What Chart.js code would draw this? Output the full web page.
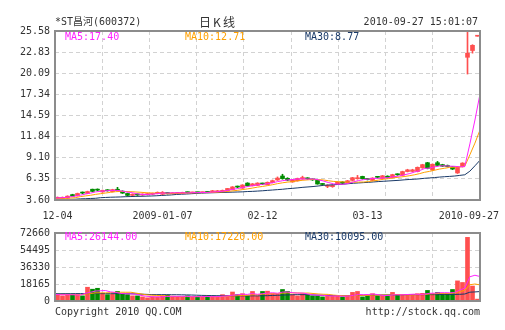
<!DOCTYPE html>
<html>
<head>
<meta charset="utf-8">
<script src="https://cdn.jsdelivr.net/npm/chart.js@4.4.1/dist/chart.umd.min.js"></script>
<style>
  html, body { margin: 0; padding: 0; background: #fff; }
  #wrap { position: relative; width: 505px; height: 330px; overflow: hidden; }
  .pane { position: absolute; left: 0; width: 505px; }
  #kbox { top: 0; height: 222px; }
  #vbox { top: 222px; height: 108px; }
</style>
</head>
<body>
<div id="wrap">
  <div class="pane" id="kbox"><canvas id="kline"></canvas></div>
  <div class="pane" id="vbox"><canvas id="vol"></canvas></div>
</div>
<script>
// daily bars, 2008-12-04 .. 2010-09-27
const opens = [3.75,3.80,3.85,4.30,4.15,4.55,4.45,5.00,4.95,4.65,
  4.90,4.70,5.00,4.75,4.45,4.20,4.35,4.25,4.30,4.35,
  4.45,4.35,4.47,4.42,4.45,4.45,4.60,4.52,4.60,4.55,
  4.62,4.60,4.65,4.70,4.80,4.95,5.32,5.15,5.80,5.45,
  5.50,5.72,5.60,5.85,6.20,6.72,6.42,5.95,6.10,6.32,
  6.40,6.27,6.15,5.66,5.37,5.33,5.68,5.94,5.85,6.15,
  6.37,6.67,6.32,6.15,6.60,6.40,6.70,6.52,6.93,6.82,
  7.30,7.32,7.30,7.78,8.45,7.50,8.45,8.20,8.05,7.92,
  7.12,7.92,22.16,23.04,24.90];
const closes = [3.95,3.95,4.10,4.10,4.45,4.50,4.70,4.72,4.88,4.85,
  4.80,4.95,4.85,4.50,4.20,4.35,4.25,4.35,4.40,4.45,
  4.60,4.60,4.44,4.50,4.52,4.60,4.55,4.60,4.55,4.60,
  4.58,4.80,4.80,4.85,5.10,5.30,5.28,5.55,5.45,5.70,
  5.80,5.68,5.90,6.12,6.45,6.38,6.18,6.22,6.40,6.52,
  6.35,6.22,5.68,5.62,5.52,5.50,5.90,5.78,6.10,6.50,
  6.44,6.37,6.27,6.45,6.55,6.75,6.52,6.90,6.88,7.30,
  7.52,7.52,7.85,8.20,7.72,8.25,8.10,8.00,7.95,7.62,
  7.88,8.40,22.70,23.72,24.90];
const highs = [4.00,4.00,4.15,4.35,4.50,4.65,4.75,5.02,5.05,4.90,
  4.95,5.00,5.25,4.80,4.50,4.40,4.40,4.40,4.45,4.50,
  4.65,4.70,4.55,4.55,4.56,4.62,4.65,4.63,4.62,4.64,
  4.68,4.85,4.85,4.90,5.12,5.35,5.42,5.60,5.85,5.75,
  5.85,5.80,5.95,6.20,6.60,6.95,6.50,6.28,6.45,6.70,
  6.50,6.35,6.20,5.75,5.58,5.55,5.95,6.00,6.15,6.55,
  6.80,6.70,6.42,6.50,6.68,6.80,6.75,6.95,7.00,7.35,
  7.60,7.60,7.90,8.25,8.50,8.30,8.62,8.25,8.15,7.98,
  7.95,8.45,25.58,23.80,24.90];
const lows = [3.60,3.75,3.82,4.05,4.12,4.42,4.42,4.68,4.80,4.60,
  4.75,4.65,4.80,4.45,4.15,4.15,4.20,4.20,4.25,4.30,
  4.40,4.30,4.38,4.40,4.42,4.42,4.50,4.50,4.52,4.52,
  4.55,4.58,4.62,4.68,4.78,4.92,5.20,5.10,5.40,5.42,
  5.48,5.60,5.55,5.82,6.15,6.30,6.10,5.90,6.05,6.30,
  6.28,6.15,5.65,5.55,5.20,5.25,5.65,5.72,5.82,6.10,
  6.30,6.30,6.20,6.10,6.48,6.35,6.45,6.48,6.80,6.78,
  7.25,7.28,7.25,7.72,7.65,7.45,8.05,7.95,7.90,7.55,
  7.05,7.88,19.98,22.70,24.90];

const ma5 = [3.85,3.88,3.93,4.00,4.11,4.22,4.37,4.49,4.65,4.73,
  4.79,4.84,4.87,4.79,4.66,4.57,4.43,4.33,4.31,4.36,
  4.41,4.48,4.50,4.52,4.53,4.53,4.52,4.55,4.56,4.58,
  4.58,4.63,4.67,4.73,4.83,4.97,5.07,5.22,5.34,5.46,
  5.56,5.64,5.71,5.84,5.99,6.11,6.21,6.27,6.33,6.34,
  6.33,6.34,6.23,6.08,5.88,5.71,5.64,5.66,5.76,5.96,
  6.14,6.24,6.34,6.41,6.42,6.48,6.51,6.63,6.72,6.87,
  7.02,7.22,7.41,7.68,7.76,7.91,8.02,8.05,8.00,7.98,
  7.91,7.97,10.90,14.00,17.40];
const ma10 = [3.78,3.80,3.82,3.85,3.90,4.04,4.13,4.21,4.33,4.42,
  4.51,4.60,4.68,4.72,4.70,4.68,4.64,4.60,4.55,4.51,
  4.49,4.46,4.42,4.42,4.45,4.47,4.50,4.53,4.54,4.56,
  4.56,4.58,4.61,4.65,4.71,4.78,4.85,4.95,5.04,5.15,
  5.27,5.36,5.47,5.59,5.73,5.84,5.93,5.99,6.09,6.17,
  6.22,6.28,6.25,6.21,6.11,6.02,5.99,5.95,5.92,5.92,
  5.93,5.94,6.00,6.09,6.19,6.31,6.38,6.49,6.57,6.65,
  6.75,6.87,7.02,7.20,7.32,7.47,7.62,7.73,7.84,7.87,
  7.91,8.00,9.48,11.00,12.71];
const ma30 = [3.65,3.66,3.67,3.68,3.70,3.75,3.77,3.80,3.82,3.90,
  3.93,3.96,3.98,4.00,4.03,4.05,4.07,4.08,4.10,4.12,
  4.15,4.19,4.22,4.26,4.32,4.35,4.38,4.42,4.46,4.50,
  4.52,4.54,4.56,4.58,4.60,4.62,4.64,4.66,4.70,4.72,
  4.76,4.80,4.85,4.90,4.95,5.00,5.07,5.12,5.18,5.25,
  5.30,5.35,5.42,5.50,5.55,5.58,5.62,5.66,5.72,5.78,
  5.82,5.86,5.90,5.95,6.00,6.04,6.08,6.12,6.16,6.22,
  6.27,6.30,6.35,6.42,6.47,6.52,6.58,6.63,6.67,6.72,
  6.80,6.88,7.35,8.05,8.77];

const volumes = [7200,5500,6800,6800,6800,5500,14700,12600,13600,8200,
  6800,7200,10200,7800,6800,5500,5500,4400,3400,4400,
  4400,5500,6200,4400,4400,4400,5500,4400,4400,4400,
  5500,4400,4400,6800,5500,9600,6800,7800,5500,10200,
  5500,10200,10500,7800,7200,12300,10200,6800,5500,7800,
  6800,5500,5500,4400,5500,5500,5500,4400,5500,9200,
  10200,4400,5500,7800,5500,5500,5500,9200,6800,6800,
  6800,6800,7800,8200,11300,7800,9200,7800,7800,12300,
  21500,19800,68000,16000,2000];
const volMa5 = [7000,6700,6700,6700,6620,6280,8120,9280,10640,10920,
  11180,9680,9200,8040,7760,7500,7160,6000,5120,4640,
  4420,4420,4780,4980,4980,4980,4980,4620,4620,4620,
  4840,4620,4620,5100,5320,6140,6620,7300,7040,7980,
  7160,7840,8380,8840,8240,9600,9600,8860,8400,8520,
  7420,6480,6220,6000,5540,5280,5280,5060,5280,6020,
  6960,6740,6960,7420,6680,5740,5960,6700,6500,6760,
  7020,7280,7000,7280,8180,8380,8860,8860,8780,8980,
  11720,13840,25880,27520,26144];
const volMa10 = [7000,7000,7000,7000,7000,6640,7410,7990,8670,8770,
  8730,8900,9240,9340,9340,9340,8420,7600,6580,6200,
  5960,5790,5390,5050,4810,4700,4700,4700,4800,4800,
  4910,4800,4620,4860,4970,5490,5620,5960,6070,6650,
  6650,7230,7840,7940,8110,8380,8720,8620,8620,8380,
  8510,8040,7540,7200,7030,6350,5880,5640,5640,5780,
  6120,6010,6010,6350,6350,6350,6350,6830,6960,6720,
  6380,6620,6850,6890,7470,7700,8070,7930,8030,8580,
  10050,11350,17370,18150,17220];
const volMa30 = [7800,7800,7850,7850,7900,7900,7900,7950,7950,7900,
  7900,7850,7850,7800,7800,7700,7600,7300,7100,6900,
  6800,6800,6800,6700,6700,6600,6500,6400,6200,6000,
  5900,5800,5700,5600,5600,5500,5500,5500,5500,5500,
  5500,5600,5700,5900,6100,6300,6500,6700,6800,6800,
  6700,6500,6300,6100,6000,5900,5800,5800,5800,5900,
  6000,6100,6200,6300,6400,6500,6600,6600,6700,6700,
  6700,6800,6800,6800,6800,6800,6900,6900,7000,7000,
  7100,7500,9400,9700,10095];

const priceTicks = [3.60, 6.35, 9.10, 11.84, 14.59, 17.34, 20.09, 22.83, 25.58];
const volTicks = [0, 18165, 36330, 54495, 72660];
const xTickIndex = [0, 21, 41, 62, 84];
const xTickText = ['12-04', '2009-01-07', '02-12', '03-13', '2010-09-27'];

const UP = '#ff4f4f', DOWN = '#008c00';
const C5 = '#ff22ff', C10 = '#ffa000', C30 = '#1a3a68';
const GRID = '#d2d2d2';
const FONT = '10px "DejaVu Sans Mono", "Noto Sans CJK SC", monospace';

Chart.defaults.font.family = '"DejaVu Sans Mono", "Noto Sans CJK SC", monospace';
Chart.defaults.font.size = 10;
Chart.defaults.color = '#333';

const labels = opens.map((_, i) => i);
const candleColors = closes.map((c, i) => (c >= opens[i] ? UP : DOWN));
const last = a => a[a.length - 1];

// grey box round the plot area
const framePlugin = {
  id: 'frame',
  afterDraw(chart) {
    const { ctx, chartArea: a } = chart;
    ctx.save();
    ctx.strokeStyle = '#8c8c8c';
    ctx.lineWidth = 2;
    ctx.strokeRect(a.left, a.top, a.right - a.left, a.bottom - a.top);
    ctx.restore();
  }
};

function textPlugin(id, build) {
  return {
    id,
    afterDraw(chart) {
      const ctx = chart.ctx;
      ctx.save();
      ctx.textBaseline = 'middle';
      build(chart).forEach(t => {
        ctx.font = t.font || FONT;
        ctx.fillStyle = t.color || '#333';
        ctx.textAlign = t.align || 'left';
        if ('letterSpacing' in ctx) ctx.letterSpacing = t.spacing || '0px';
        let x = t.x;
        if (t.clamp) {
          const w = ctx.measureText(t.text).width;
          x = Math.min(Math.max(x, w / 2 + 2), chart.width - 6 - w / 2);
        }
        ctx.fillText(t.text, x, t.y);
      });
      ctx.restore();
    }
  };
}

function baseScales(yOpts) {
  return {
    x: { type: 'category', display: false, offset: true },
    x2: { type: 'category', display: false, offset: false },
    xg: {
      type: 'linear', position: 'bottom', min: 0, max: 8,
      ticks: { display: false, stepSize: 1 },
      grid: { color: GRID, drawTicks: false },
      border: { display: false, dash: [4, 3] },
      afterFit: s => { s.height = 0; }
    },
    y: Object.assign({
      position: 'left',
      grid: { color: GRID, drawTicks: false },
      border: { display: false, dash: [4, 3] },
      afterFit: s => { s.width = 55; }
    }, yOpts)
  };
}

function maLine(data, color) {
  return {
    type: 'line', data, xAxisID: 'x2', yAxisID: 'y',
    borderColor: color, borderWidth: 1, pointRadius: 0, tension: 0, order: 0
  };
}

const common = {
  responsive: true,
  maintainAspectRatio: false,
  animation: false,
  devicePixelRatio: 1,
  events: [],
  plugins: { legend: { display: false }, tooltip: { enabled: false } }
};

// price panel: candles + moving averages
new Chart(document.getElementById('kline'), {
  type: 'bar',
  data: {
    labels,
    datasets: [
      {
        data: lows.map((l, i) => [l, highs[i]]),
        xAxisID: 'x', yAxisID: 'y',
        backgroundColor: candleColors, barThickness: 1, grouped: false, order: 2
      },
      {
        data: opens.map((o, i) => [o, closes[i]]),
        xAxisID: 'x', yAxisID: 'y',
        backgroundColor: candleColors, barThickness: 4, minBarLength: 1, grouped: false, order: 1
      },
      maLine(ma5, C5),
      maLine(ma10, C10),
      maLine(ma30, C30)
    ]
  },
  options: Object.assign({}, common, {
    layout: { padding: { left: 0, right: 25, top: 31, bottom: 22 } },
    scales: baseScales({
      min: priceTicks[0],
      max: last(priceTicks),
      afterBuildTicks: s => { s.ticks = priceTicks.map(v => ({ value: v })); },
      ticks: { padding: 5, color: '#333', callback: v => Number(v).toFixed(2) }
    })
  }),
  plugins: [framePlugin, textPlugin('ktext', chart => {
    const xs = chart.scales.x;
    const items = [
      { text: '*ST昌河(600372)', x: 55, y: 22 },
      { text: '日K线', x: 218, y: 22, align: 'center', font: '12px "Noto Sans CJK SC", sans-serif', spacing: '2px' },
      { text: '2010-09-27 15:01:07', x: 478, y: 22, align: 'right' },
      { text: 'MA5:' + last(ma5).toFixed(2), x: 65, y: 37, color: C5 },
      { text: 'MA10:' + last(ma10).toFixed(2), x: 185, y: 37, color: C10 },
      { text: 'MA30:' + last(ma30).toFixed(2), x: 305, y: 37, color: C30 }
    ];
    xTickIndex.forEach((idx, k) => {
      items.push({ text: xTickText[k], x: xs.getPixelForValue(idx), y: 216.5, align: 'center', clamp: true });
    });
    return items;
  })]
});

// volume panel
new Chart(document.getElementById('vol'), {
  type: 'bar',
  data: {
    labels,
    datasets: [
      {
        data: volumes, xAxisID: 'x', yAxisID: 'y',
        backgroundColor: candleColors, barThickness: 4, grouped: false, order: 1
      },
      maLine(volMa5, C5),
      maLine(volMa10, C10),
      maLine(volMa30, C30)
    ]
  },
  options: Object.assign({}, common, {
    layout: { padding: { left: 0, right: 25, top: 8, bottom: 29 } },
    scales: baseScales({
      min: volTicks[0],
      max: last(volTicks),
      afterBuildTicks: s => { s.ticks = volTicks.map(v => ({ value: v })); },
      ticks: { padding: 5, color: '#333', callback: v => String(v) }
    })
  }),
  plugins: [framePlugin, textPlugin('vtext', () => [
    { text: 'MA5:' + last(volMa5).toFixed(2), x: 65, y: 15, color: C5 },
    { text: 'MA10:' + last(volMa10).toFixed(2), x: 185, y: 15, color: C10 },
    { text: 'MA30:' + last(volMa30).toFixed(2), x: 305, y: 15, color: C30 },
    { text: 'Copyright 2010 QQ.COM', x: 55, y: 90 },
    { text: 'http://stock.qq.com', x: 480, y: 90, align: 'right' }
  ])]
});
</script>
</body>
</html>
